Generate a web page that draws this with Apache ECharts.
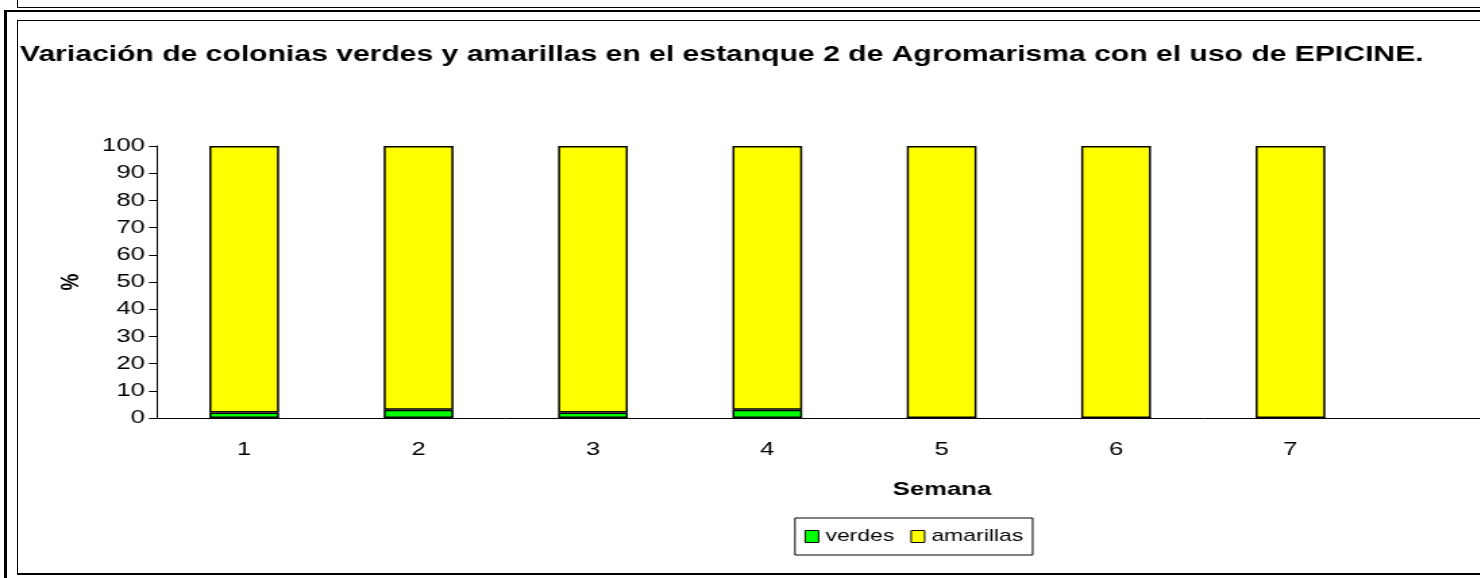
<!DOCTYPE html>
<html>
<head>
<meta charset="utf-8">
<title>Variación de colonias verdes y amarillas</title>
<script src="https://cdn.jsdelivr.net/npm/echarts@6/dist/echarts.min.js"></script>
<style>
html, body { margin: 0; padding: 0; width: 1480px; height: 578px; overflow: hidden; background: #fff; }
.frame { position: absolute; box-sizing: border-box; }
/* bottom of the chart above, cut off by the crop */
.frame--prev { left: 17px; top: -5px; width: 1500px; height: 13px; border-left: 1px solid #000; border-bottom: 1px solid #000; }
.frame--outer { left: 4px; top: 10px; width: 1500px; height: 600px; border-left: 3px solid #000; border-top: 2px solid #000; }
.frame--inner { left: 17px; top: 20px; width: 1500px; height: 555px; border-left: 1px solid #000; border-top: 1px solid #000; border-bottom: 2px solid #000; }
/* the original picture is stretched sideways, so the chart is too */
#chart { position: absolute; left: 0; top: 0; width: 1156px; height: 578px; transform: scaleX(1.35); transform-origin: 0 0; }
</style>
</head>
<body>
<div class="frame frame--prev"></div>
<div class="frame frame--outer"></div>
<div class="frame frame--inner"></div>
<div id="chart"></div>
<script>
// semanas (the last slot is empty in the original)
const semanas = ['1', '2', '3', '4', '5', '6', '7', ''];
// % de colonias
const verdes = [2, 3, 2, 3, 0, 0, 0];
const amarillas = [98, 97, 98, 97, 100, 100, 100];
// eje Y
const yMin = 0;
const yMax = 100;
const yStep = 10;

const SX = 1.35;
const font = "'Liberation Sans', Arial, sans-serif";

const chart = echarts.init(document.getElementById('chart'), null, { renderer: 'canvas' });

chart.setOption({
  animation: false,
  title: {
    text: 'Variación de colonias verdes y amarillas en el estanque 2 de Agromarisma con el uso de EPICINE.',
    left: 20 / SX,
    top: 44,
    padding: 0,
    textStyle: { fontFamily: font, fontSize: 22.3, fontWeight: 'bold', color: '#000' }
  },
  legend: {
    data: ['verdes', 'amarillas'],
    left: 795 / SX,
    top: 518,
    padding: [10, 7],
    borderColor: '#000',
    borderWidth: 1,
    borderRadius: 0,
    icon: 'rect',
    itemWidth: 10,
    itemHeight: 12,
    itemGap: 12,
    itemStyle: { borderColor: '#000', borderWidth: 1 },
    textStyle: { fontFamily: font, fontSize: 17, color: '#000' }
  },
  grid: {
    left: 157 / SX,
    top: 146,
    width: (1552 - 157) / SX,
    height: 272
  },
  xAxis: {
    type: 'category',
    data: semanas,
    axisLine: { lineStyle: { color: '#000', width: 1 } },
    axisTick: { length: 6, lineStyle: { color: '#000' } },
    axisLabel: { margin: 22, fontFamily: font, fontSize: 19, color: '#000' }
  },
  yAxis: {
    type: 'value',
    min: yMin,
    max: yMax,
    interval: yStep,
    name: '%',
    nameLocation: 'middle',
    nameGap: 54,
    nameRotate: 90,
    nameTextStyle: { fontFamily: font, fontSize: 19, fontWeight: 'bold', color: '#000' },
    axisLine: { show: true, lineStyle: { color: '#000', width: 1 } },
    axisTick: { show: true, length: 6, lineStyle: { color: '#000' } },
    splitLine: { show: false },
    axisLabel: { margin: 9, fontFamily: font, fontSize: 19, color: '#000' }
  },
  graphic: [{
    type: 'text',
    x: 942 / SX,
    y: 490,
    style: {
      text: 'Semana',
      fontFamily: font,
      fontSize: 19,
      fontWeight: 'bold',
      fill: '#000',
      textAlign: 'center',
      textVerticalAlign: 'middle'
    }
  }],
  series: [
    {
      name: 'verdes',
      type: 'bar',
      stack: 'total',
      barWidth: '40%',
      data: verdes,
      itemStyle: { color: '#00FF00', borderColor: '#000', borderWidth: 1.5 }
    },
    {
      name: 'amarillas',
      type: 'bar',
      stack: 'total',
      barWidth: '40%',
      data: amarillas,
      itemStyle: { color: '#FFFF00', borderColor: '#000', borderWidth: 1.5 }
    }
  ]
});
</script>
</body>
</html>
